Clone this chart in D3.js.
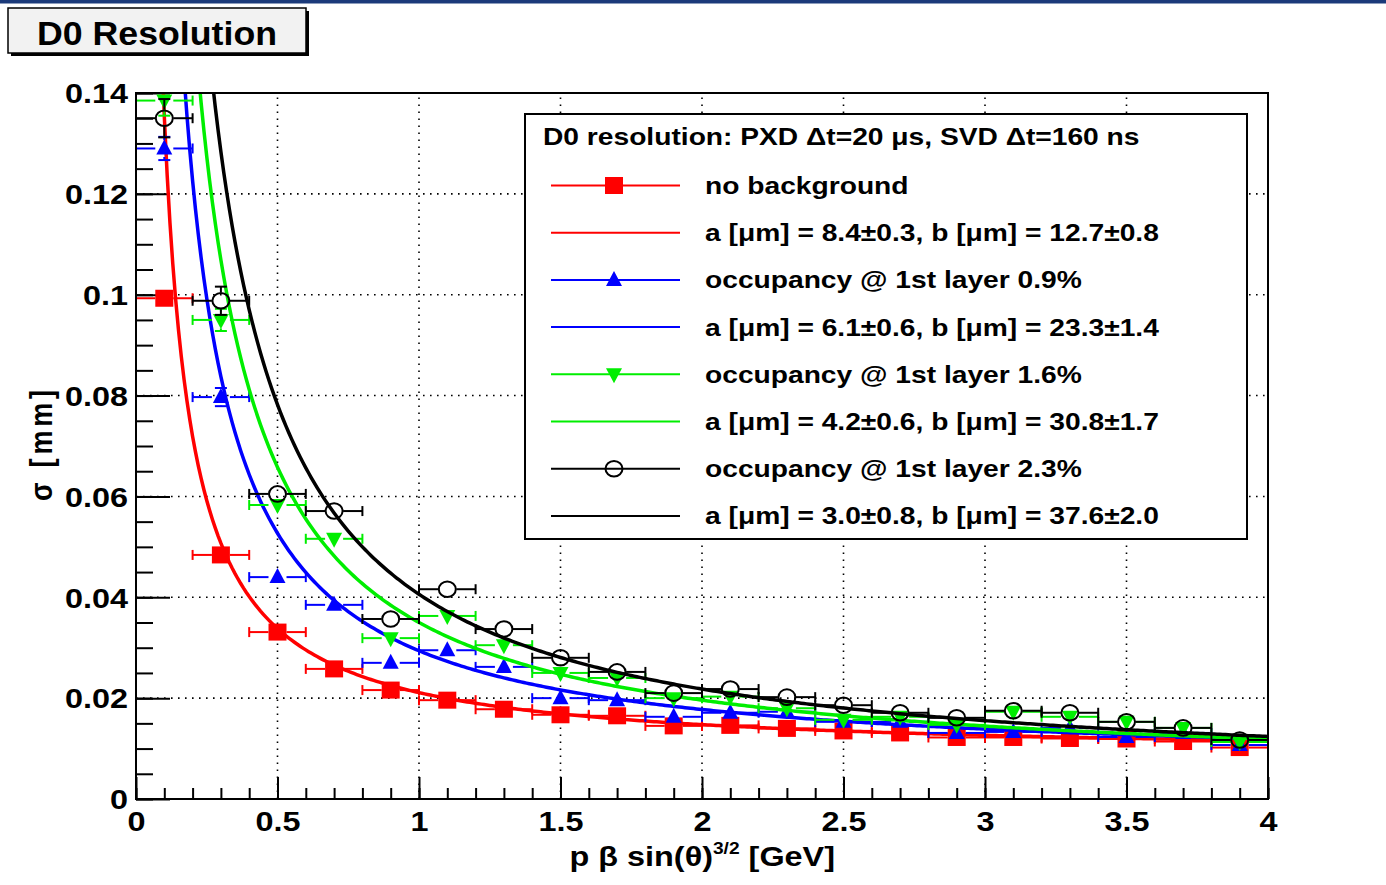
<!DOCTYPE html>
<html><head><meta charset="utf-8">
<script src="https://cdn.jsdelivr.net/npm/d3@7"></script>
<style>html,body{margin:0;padding:0;background:#fff;}svg{display:block;}</style>
</head><body>
<script>
// ---------------- data ----------------
const xValues = [0.1,0.3,0.5,0.7,0.9,1.1,1.3,1.5,1.7,1.9,2.1,2.3,2.5,2.7,2.9,3.1,3.3,3.5,3.7,3.9];
const binHalfWidth = 0.1;
const noBackground = [0.0993,0.0484,0.0331,0.0258,0.0216,0.0196,0.0178,0.0167,0.0165,0.0145,0.0146,0.0140,0.0135,0.0131,0.0122,0.0122,0.0120,0.0119,0.0114,0.0102];
const noBackgroundErr = [0.0015,0.0012,0.0008,0.0006,0.0005,0.0004,0.0004,0.0004,0.0003,0.0003,0.0003,0.0003,0.0003,0.0003,0.0003,0.0003,0.0003,0.0003,0.0003,0.0003];
const occ09 = [0.129,0.0797,0.0440,0.0385,0.0270,0.0295,0.0262,0.0200,0.0196,0.0163,0.0171,0.0173,0.0153,0.0153,0.0131,0.0133,0.0141,0.0123,0.0131,0.0107];
const occ09Err = [0.0023,0.0018,0.0012,0.0010,0.0008,0.0007,0.0006,0.0005,0.0005,0.0004,0.0004,0.0004,0.0004,0.0004,0.0004,0.0004,0.0004,0.0004,0.0004,0.0004];
const occ16 = [0.1385,0.0950,0.0583,0.0516,0.0319,0.0363,0.0305,0.0250,0.0240,0.0200,0.0203,0.0180,0.0157,0.0163,0.0147,0.0173,0.0163,0.0153,0.0141,0.0113];
const occ16Err = [0.0030,0.0022,0.0015,0.0012,0.0009,0.0008,0.0007,0.0006,0.0006,0.0005,0.0005,0.0005,0.0005,0.0005,0.0005,0.0005,0.0005,0.0005,0.0005,0.0005];
const occ23 = [0.1350,0.0988,0.0605,0.0571,0.0357,0.0416,0.0337,0.0280,0.0252,0.0210,0.0218,0.0202,0.0186,0.0171,0.0161,0.0175,0.0171,0.0153,0.0141,0.0117];
const occ23Err = [0.0038,0.0028,0.0015,0.0014,0.0010,0.0009,0.0008,0.0007,0.0007,0.0006,0.0006,0.0006,0.0006,0.0006,0.0006,0.0006,0.0006,0.0006,0.0006,0.0006];
// fit parameters sigma = a + b / (p beta sin^{3/2}) [um]
const fitA = [8.4, 6.1, 4.2, 3.0];
const fitB = [12.7, 23.3, 30.8, 37.6];
const seriesNames = ["no background","occupancy @ 1st layer 0.9%","occupancy @ 1st layer 1.6%","occupancy @ 1st layer 2.3%"];
const fitLabels = ["a [\u03bcm] = 8.4\u00b10.3, b [\u03bcm] = 12.7\u00b10.8","a [\u03bcm] = 6.1\u00b10.6, b [\u03bcm] = 23.3\u00b11.4","a [\u03bcm] = 4.2\u00b10.6, b [\u03bcm] = 30.8\u00b11.7","a [\u03bcm] = 3.0\u00b10.8, b [\u03bcm] = 37.6\u00b12.0"];
const legendHeader = "D0 resolution: PXD \u0394t=20 \u03bcs, SVD \u0394t=160 ns";
const xTickValues = [0,0.5,1,1.5,2,2.5,3,3.5,4];
const xTickLabels = ["0","0.5","1","1.5","2","2.5","3","3.5","4"];
const yTickValues = [0,0.02,0.04,0.06,0.08,0.1,0.12,0.14];
const yTickLabels = ["0","0.02","0.04","0.06","0.08","0.1","0.12","0.14"];
const titleText = "D0 Resolution";

// ---------------- drawing ----------------
const W = 1386, H = 885;
const FONT = "'Liberation Sans', Arial, Helvetica, sans-serif";
const svg = d3.select("body").append("svg").attr("width", W).attr("height", H);
svg.append("rect").attr("width", W).attr("height", H).attr("fill", "#fff");
svg.append("rect").attr("x",0).attr("y",0).attr("width",W).attr("height",3.5).attr("fill","#1b3a7a");

function stext(g, x, y, str, size, sx, anchor, weight) {
  return g.append("text")
    .attr("transform", `translate(${x},${y}) scale(${sx},1)`)
    .attr("text-anchor", anchor || "start")
    .attr("font-family", FONT)
    .attr("font-weight", weight || "bold")
    .attr("font-size", size)
    .attr("fill", "#000")
    .text(str);
}

// title box
svg.append("rect").attr("x",11).attr("y",11).attr("width",298).attr("height",45).attr("fill","#000");
svg.append("rect").attr("x",8).attr("y",8).attr("width",298).attr("height",45).attr("fill","#f2f2f2").attr("stroke","#000").attr("stroke-width",1.5);
stext(svg, 157, 45, titleText, 34, 1.05, "middle");

const x = d3.scaleLinear().domain([0,4]).range([136,1268]);
const y = d3.scaleLinear().domain([0,0.14]).range([799,93]);
const [x0,x1] = x.range(), [y0,y1] = y.range();

// grid
const grid = svg.append("g").attr("stroke","#000").attr("stroke-width",1.6).attr("stroke-dasharray","1.6,5.4");
grid.selectAll(".gx").data(xTickValues.filter(v => v > 0 && v < 4)).join("line")
  .attr("x1", d => x(d)).attr("x2", d => x(d)).attr("y1", y0).attr("y2", y1);
grid.selectAll(".gy").data(yTickValues.filter(v => v > 0 && v < 0.14)).join("line")
  .attr("y1", d => y(d)).attr("y2", d => y(d)).attr("x1", x0).attr("x2", x1);

// axes
const tickFont = 27, tickSX = 1.2;
const xMinor = svg.append("g").attr("transform", `translate(0,${y0})`)
  .call(d3.axisBottom(x).tickValues(d3.range(0, 41).map(i => i / 10)).tickSize(-11).tickFormat(""));
const xMajor = svg.append("g").attr("transform", `translate(0,${y0})`)
  .call(d3.axisBottom(x).tickValues(xTickValues).tickSize(-22).tickPadding(0).tickFormat((d,i) => xTickLabels[i]));
const yMinor = svg.append("g").attr("transform", `translate(${x0},0)`)
  .call(d3.axisLeft(y).tickValues(d3.range(0, 29).map(i => i * 0.005)).tickSize(-17).tickFormat(""));
const yMajor = svg.append("g").attr("transform", `translate(${x0},0)`)
  .call(d3.axisLeft(y).tickValues(yTickValues).tickSize(-34).tickPadding(0).tickFormat((d,i) => yTickLabels[i]));
[xMinor,xMajor,yMinor,yMajor].forEach(g => {
  g.select(".domain").remove();
  g.selectAll(".tick line").attr("stroke","#000").attr("stroke-width",2);
});
xMajor.selectAll(".tick text")
  .attr("font-family", FONT).attr("font-weight","bold").attr("font-size", tickFont).attr("fill","#000")
  .attr("y", 32).attr("dy", 0).attr("transform", `scale(${tickSX},1)`);
yMajor.selectAll(".tick text")
  .attr("font-family", FONT).attr("font-weight","bold").attr("font-size", tickFont).attr("fill","#000")
  .attr("x", -8 / tickSX).attr("dy", "0.36em").attr("transform", `scale(${tickSX},1)`);

// axis titles
const xt = svg.append("text")
  .attr("transform", `translate(835,866) scale(${tickSX},1)`)
  .attr("text-anchor","end").attr("font-family",FONT).attr("font-weight","bold").attr("font-size",tickFont).attr("fill","#000");
xt.append("tspan").text("p \u03b2 sin(\u03b8)");
xt.append("tspan").attr("font-size",16).attr("dy",-12).text("3/2");
xt.append("tspan").attr("dy",12).text(" [GeV]");

svg.append("text")
  .attr("transform", "translate(52,390) rotate(-90) scale(1,1.15)")
  .attr("text-anchor","end").attr("font-family",FONT).attr("font-weight","bold").attr("font-size",27).attr("fill","#000")
  .attr("textLength",111).attr("lengthAdjust","spacing")
  .text("\u03c3 [mm]");

// clip
svg.append("clipPath").attr("id","plotclip").append("rect")
  .attr("x", x0).attr("y", y1).attr("width", x1 - x0).attr("height", y0 - y1);

const series = [
  {vals: noBackground, errs: noBackgroundErr, color: "#ff0000", marker: "square"},
  {vals: occ09, errs: occ09Err, color: "#0000ff", marker: "tri"},
  {vals: occ16, errs: occ16Err, color: "#00ee00", marker: "tridown"},
  {vals: occ23, errs: occ23Err, color: "#000000", marker: "circle"}
];

function drawMarker(g, type, cx, cy, color) {
  if (type === "square") {
    g.append("rect").attr("x", cx - 9).attr("y", cy - 8.5).attr("width", 18).attr("height", 17).attr("fill", color);
  } else if (type === "tri") {
    g.append("path").attr("d", `M${cx},${cy-9}L${cx+8},${cy+6}L${cx-8},${cy+6}Z`).attr("fill", color);
  } else if (type === "tridown") {
    g.append("path").attr("d", `M${cx},${cy+9}L${cx+8},${cy-6}L${cx-8},${cy-6}Z`).attr("fill", color);
  } else {
    g.append("ellipse").attr("cx", cx).attr("cy", cy).attr("rx", 8.5).attr("ry", 7.8)
      .attr("fill", "none").attr("stroke", color).attr("stroke-width", 2);
  }
}

const plot = svg.append("g").attr("clip-path","url(#plotclip)");
const line = d3.line().x(d => x(d[0])).y(d => y(d[1]));
const sampleX = d3.range(0.02, 4.0001, 0.01);

series.forEach((s, si) => {
  const g = plot.append("g");
  const gapX = 9, gapY = 8.5, cap = 5, vcap = 6;
  xValues.forEach((xv, i) => {
    const cx = x(xv), cy = y(s.vals[i]);
    const xl = x(xv - binHalfWidth), xr = x(xv + binHalfWidth);
    const eb = g.append("g").attr("stroke", s.color).attr("stroke-width", 2);
    eb.append("line").attr("x1", xl).attr("x2", cx - gapX).attr("y1", cy).attr("y2", cy);
    eb.append("line").attr("x1", cx + gapX).attr("x2", xr).attr("y1", cy).attr("y2", cy);
    eb.append("line").attr("x1", xl).attr("x2", xl).attr("y1", cy - cap).attr("y2", cy + cap);
    eb.append("line").attr("x1", xr).attr("x2", xr).attr("y1", cy - cap).attr("y2", cy + cap);
    const yt = y(s.vals[i] + s.errs[i]), yb = y(s.vals[i] - s.errs[i]);
    if (cy - yt > gapY) {
      eb.append("line").attr("x1", cx).attr("x2", cx).attr("y1", yt).attr("y2", cy - gapY);
      eb.append("line").attr("x1", cx).attr("x2", cx).attr("y1", cy + gapY).attr("y2", yb);
      eb.append("line").attr("x1", cx - vcap).attr("x2", cx + vcap).attr("y1", yt).attr("y2", yt);
      eb.append("line").attr("x1", cx - vcap).attr("x2", cx + vcap).attr("y1", yb).attr("y2", yb);
    }
    drawMarker(g, s.marker, cx, cy, s.color);
  });
  const curve = sampleX.map(xv => [xv, (fitA[si] + fitB[si] / xv) / 1000]);
  plot.append("path").attr("d", line(curve)).attr("fill","none").attr("stroke", s.color).attr("stroke-width", 3.5);
});

// frame
svg.append("rect").attr("x", x0).attr("y", y1).attr("width", x1 - x0).attr("height", y0 - y1)
  .attr("fill","none").attr("stroke","#000").attr("stroke-width",2);

// legend
const lg = svg.append("g");
lg.append("rect").attr("x",525).attr("y",114).attr("width",722).attr("height",425)
  .attr("fill","#fff").attr("stroke","#000").attr("stroke-width",2);
const legFont = 23.5, legSX = 1.2;
stext(lg, 543, 145, legendHeader, legFont, legSX, "start");
const rowY = d3.range(8).map(i => 185.5 + i * 47.2);
series.forEach((s, si) => {
  const r1 = rowY[si * 2], r2 = rowY[si * 2 + 1];
  lg.append("line").attr("x1",551).attr("x2",680).attr("y1",r1).attr("y2",r1).attr("stroke",s.color).attr("stroke-width",2);
  drawMarker(lg, s.marker, 614, r1, s.color);
  stext(lg, 705, r1 + 8.5, seriesNames[si], legFont, legSX, "start");
  lg.append("line").attr("x1",551).attr("x2",680).attr("y1",r2).attr("y2",r2).attr("stroke",s.color).attr("stroke-width",2);
  stext(lg, 705, r2 + 8.5, fitLabels[si], legFont, legSX, "start");
});
</script>
</body></html>
